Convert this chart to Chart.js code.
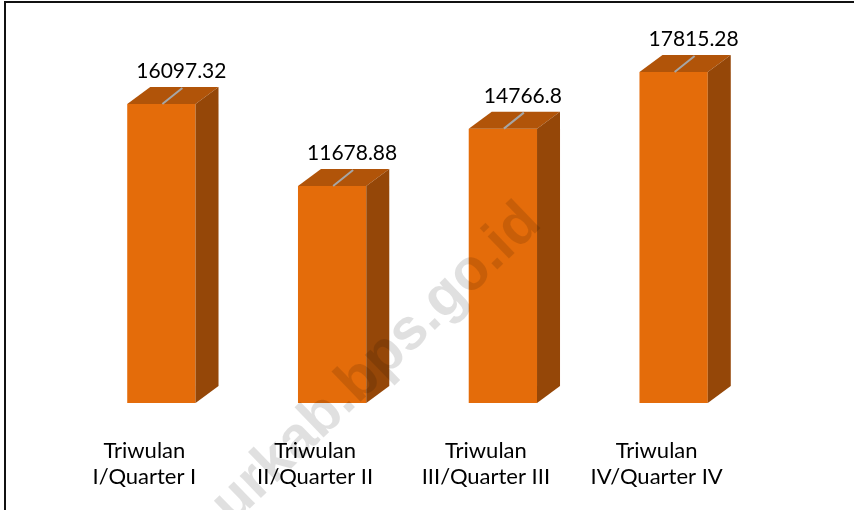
<!DOCTYPE html>
<html>
<head>
<meta charset="utf-8">
<script src="https://cdn.jsdelivr.net/npm/chart.js@4/dist/chart.umd.min.js"></script>
<style>
  html, body { margin: 0; padding: 0; background: #fff; }
  canvas { display: block; }
</style>
</head>
<body>
<canvas id="c" width="854" height="510"></canvas>
<script>
// ---- data ----
const categories = [
  ["Triwulan", "I/Quarter I"],
  ["Triwulan", "II/Quarter II"],
  ["Triwulan", "III/Quarter III"],
  ["Triwulan", "IV/Quarter IV"]
];
const values = [16097.32, 11678.88, 14766.8, 17815.28];
const valueLabels = ["16097.32", "11678.88", "14766.8", "17815.28"];
const watermarkText = "urkab.bps.go.id";

// ---- style ----
const FRONT = "#E46C0A";
const TOP = "#B15409";
const SIDE = "#954708";
const DEPTH_X = 23, DEPTH_Y = 17;

const frame = {
  id: "frame",
  beforeDraw(chart) {
    const ctx = chart.ctx;
    ctx.save();
    ctx.fillStyle = "#fff";
    ctx.fillRect(0, 0, chart.width, chart.height);
    ctx.restore();
  },
  afterDraw(chart) {
    const ctx = chart.ctx;
    ctx.save();
    ctx.strokeStyle = "#111";
    ctx.lineWidth = 2;
    ctx.beginPath();
    ctx.moveTo(4, 2); ctx.lineTo(chart.width, 2);
    ctx.moveTo(5, 1); ctx.lineTo(5, chart.height);
    ctx.stroke();
    ctx.restore();
  }
};

const bars3d = {
  id: "bars3d",
  afterDatasetsDraw(chart) {
    const ctx = chart.ctx;
    const meta = chart.getDatasetMeta(0);
    ctx.save();
    meta.data.forEach((bar, i) => {
      const w = bar.width;
      const l = bar.x - w / 2, r = bar.x + w / 2;
      const t = bar.y, b = bar.base;
      // top face
      ctx.fillStyle = TOP;
      ctx.beginPath();
      ctx.moveTo(l, t);
      ctx.lineTo(l + DEPTH_X, t - DEPTH_Y);
      ctx.lineTo(r + DEPTH_X, t - DEPTH_Y);
      ctx.lineTo(r, t);
      ctx.closePath();
      ctx.fill();
      // side face
      ctx.fillStyle = SIDE;
      ctx.beginPath();
      ctx.moveTo(r, t);
      ctx.lineTo(r + DEPTH_X, t - DEPTH_Y);
      ctx.lineTo(r + DEPTH_X, b - DEPTH_Y);
      ctx.lineTo(r, b);
      ctx.closePath();
      ctx.fill();
      // leader line
      ctx.strokeStyle = "#A6A6A6";
      ctx.lineWidth = 2;
      ctx.beginPath();
      ctx.moveTo(bar.x + 1, t);
      ctx.lineTo(bar.x + 21, t - 16);
      ctx.stroke();
      // value label
      ctx.fillStyle = "#000";
      ctx.font = "21px Lato";
      ctx.textAlign = "center";
      ctx.textBaseline = "alphabetic";
      ctx.fillText(valueLabels[i], bar.x + 20, t - 26);
    });
    ctx.restore();
  },
  afterDraw(chart) {
    // watermark
    const ctx = chart.ctx;
    ctx.save();
    ctx.font = "bold 58px 'Liberation Sans'";
    const pre = ctx.measureText("urkab").width;
    const dot = ctx.measureText(".").width;
    ctx.translate(352, 410);
    ctx.rotate(-44 * Math.PI / 180);
    ctx.fillStyle = "rgba(0,0,0,0.12)";
    ctx.textAlign = "left";
    ctx.textBaseline = "alphabetic";
    ctx.fillText(watermarkText, -(pre + dot / 2), 0);
    ctx.restore();
  }
};

new Chart(document.getElementById("c"), {
  type: "bar",
  data: {
    labels: categories,
    datasets: [{
      data: values,
      backgroundColor: FRONT,
      borderWidth: 0,
      barPercentage: 0.4,
      categoryPercentage: 1
    }]
  },
  options: {
    responsive: false,
    devicePixelRatio: 1,
    animation: false,
    layout: { padding: { left: 76, right: 95, top: 31.4, bottom: 0 } },
    plugins: { legend: { display: false }, tooltip: { enabled: false } },
    scales: {
      x: {
        grid: { display: false, drawTicks: false },
        border: { display: false },
        ticks: {
          color: "#000",
          font: { family: "Lato", size: 22, lineHeight: 1.18 },
          padding: 35,
          labelOffset: -17,
          maxRotation: 0,
          autoSkip: false
        },
        afterFit(scale) { scale.height = 107; }
      },
      y: {
        display: false,
        min: 0,
        max: 20000
      }
    }
  },
  plugins: [frame, bars3d]
});
</script>
</body>
</html>
